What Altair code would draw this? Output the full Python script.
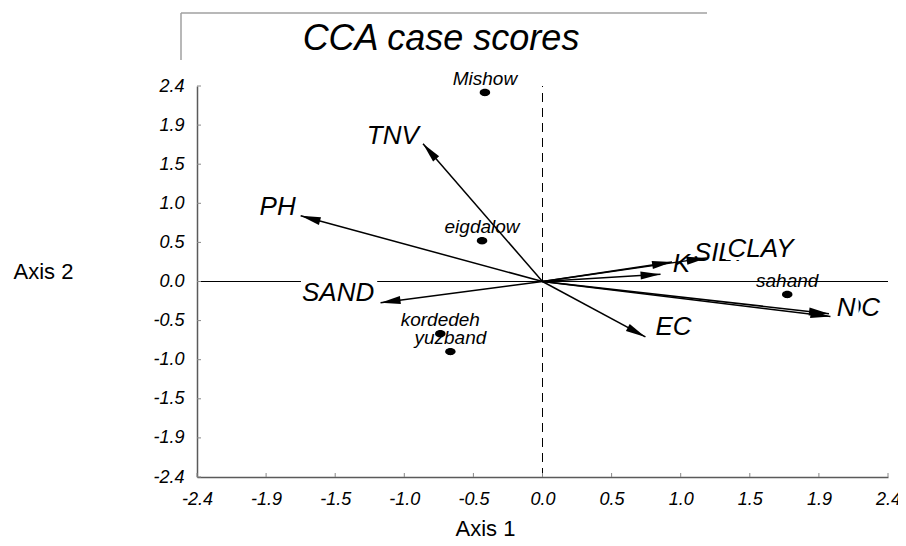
import math
import altair as alt
import pandas as pd

# ---- data ----
sites = ["Mishow", "eigdalow", "kordedeh", "yuzband", "sahand"]
site_x = [-0.40, -0.42, -0.71, -0.64, 1.70]
site_y = [2.32, 0.50, -0.64, -0.86, -0.16]

variables = ["TNV", "PH", "SAND", "EC", "K", "SILT", "CLAY", "OC", "N"]
var_x = [-0.83, -1.68, -1.125, 0.715, 0.90, 0.82, 1.14, 2.00, 1.99]
var_y = [1.69, 0.806, -0.26, -0.68, 0.24, 0.09, 0.29, -0.43, -0.395]
var_label_x = [-1.04, -1.84, -1.42, 0.91, 0.965, 1.235, 1.515, 2.21, 2.11]
var_label_y = [1.79, 0.91, -0.14, -0.56, 0.21, 0.35, 0.40, -0.33, -0.33]

tick_values = [-2.4, -1.92, -1.44, -0.96, -0.48, 0.0, 0.48, 0.96, 1.44, 1.92, 2.4]
tick_labels = ["-2.4", "-1.9", "-1.5", "-1.0", "-0.5", "0.0", "0.5", "1.0", "1.5", "1.9", "2.4"]

title_text = "CCA case scores"
x_title = "Axis 1"
y_title = "Axis 2"

# ---- layout ----
W, H = 691, 391
FONT = "Liberation Sans"
LABEL_FS = 26
kx, ky = W / 4.8, H / 4.8

# approximate Arial advance widths (em) for the label letters, to size white label boxes
CHAR_EM = {"T": .611, "N": .722, "V": .667, "P": .667, "H": .722, "S": .667, "A": .667,
           "D": .722, "E": .667, "C": .722, "K": .667, "I": .278, "L": .556, "Y": .667,
           "O": .778}

sites_df = pd.DataFrame({"name": sites, "x": site_x, "y": site_y})
arrows_df = pd.DataFrame({
    "name": variables, "x": var_x, "y": var_y,
    "x0": [0.0] * len(variables), "y0": [0.0] * len(variables),
    "lx": var_label_x, "ly": var_label_y,
})
arrows_df["angle"] = [
    math.degrees(math.atan2(-yy * ky, xx * kx)) % 360 for xx, yy in zip(var_x, var_y)
]
half_w = [sum(CHAR_EM.get(c, .667) for c in n) * LABEL_FS / 2 for n in variables]
arrows_df["bx1"] = [lx - (hw + 1) / kx for lx, hw in zip(var_label_x, half_w)]
arrows_df["bx2"] = [lx + (hw + 3) / kx for lx, hw in zip(var_label_x, half_w)]
arrows_df["by1"] = [ly + 14 / ky for ly in var_label_y]
arrows_df["by2"] = [ly - 11 / ky for ly in var_label_y]

ticks_df = pd.DataFrame({"v": tick_values})
zero_df = pd.DataFrame({"a": [-2.4], "b": [2.4], "z": [0.0]})

label_expr = "[" + ",".join("'%s'" % t for t in tick_labels) + "][round((datum.value + 2.4) / 0.48)]"

xscale = alt.Scale(domain=[-2.4, 2.4], nice=False, zero=False)
yscale = alt.Scale(domain=[-2.4, 2.4], nice=False, zero=False)

xaxis = alt.Axis(
    values=tick_values, labelExpr=label_expr, grid=False, ticks=False,
    domainColor="#5a5a5a", domainWidth=1.5, labelFont=FONT, labelFontSize=18,
    labelFontStyle="italic", labelColor="#000", labelPadding=13,
    title=x_title, titleFont=FONT, titleFontSize=22, titleFontWeight="normal",
    titleColor="#000", titleX=288, titleY=51, titleAlign="center",
    titleBaseline="middle", labelFlush=False, labelOverlap=False,
)
yaxis = alt.Axis(
    values=tick_values, labelExpr=label_expr, grid=False, ticks=False,
    domainColor="#5a5a5a", domainWidth=1.5, labelFont=FONT, labelFontSize=18,
    labelFontStyle="italic", labelColor="#000", labelPadding=13,
    title=y_title, titleFont=FONT, titleFontSize=22, titleFontWeight="normal",
    titleColor="#000", titleAngle=0, titleX=-184, titleY=185, titleAlign="left",
    titleBaseline="middle", labelFlush=False, labelOverlap=False,
)


def X(f):
    return alt.X(f, type="quantitative", scale=xscale, axis=xaxis)


def Y(f):
    return alt.Y(f, type="quantitative", scale=yscale, axis=yaxis)


dummy = alt.Data(values=[{}])

# zero reference lines
hline = alt.Chart(zero_df).mark_rule(color="#000", strokeWidth=1.2).encode(
    x=X("a"), x2="b", y=Y("z"))
vline = alt.Chart(zero_df).mark_rule(color="#000", strokeWidth=1, strokeDash=[9, 6]).encode(
    y=Y("a"), y2="b", x=X("z"))

# small inward ticks
yticks = alt.Chart(ticks_df).mark_rule(color="#888", strokeWidth=1).encode(
    y=Y("v"), x=alt.value(0), x2=alt.value(4))
xticks = alt.Chart(ticks_df).mark_rule(color="#888", strokeWidth=1).encode(
    x=X("v"), y=alt.value(H), y2=alt.value(H - 4))

# arrow labels, each on an opaque white box, drawn in order
label_layers = []
for v in variables:
    base = alt.Chart(arrows_df).transform_filter(alt.datum.name == v)
    box = base.mark_rect(color="#fff", opacity=1).encode(
        x=X("bx1"), x2="bx2", y=Y("by1"), y2="by2")
    txt = base.mark_text(
        font=FONT, fontSize=LABEL_FS, fontStyle="italic", color="#000",
        align="center", baseline="middle",
    ).encode(x=X("lx"), y=Y("ly"), text="name:N")
    label_layers += [box, txt]

# arrows
shafts = alt.Chart(arrows_df).mark_rule(color="#000", strokeWidth=1.5).encode(
    x=X("x0"), y=Y("y0"), x2="x", y2="y")
heads = alt.Chart(arrows_df).mark_point(
    shape="M0,0 L-2,-0.4 L-2,0.4 Z", filled=True, color="#000", opacity=1,
    size=400, strokeWidth=0,
).encode(x=X("x"), y=Y("y"), angle=alt.Angle("angle:Q", scale=None))

# case points
ellipse = "M-1,0 A1,0.7 0 1,1 1,0 A1,0.7 0 1,1 -1,0 Z"
points = alt.Chart(sites_df).mark_point(
    shape=ellipse, filled=True, color="#000", opacity=1, size=110, strokeWidth=0
).encode(x=X("x"), y=Y("y"))
point_labels = alt.Chart(sites_df).mark_text(
    font=FONT, fontSize=19, fontStyle="italic", color="#000", dy=-14,
    align="center", baseline="middle",
).encode(x=X("x"), y=Y("y"), text="name:N")

# title and its partial frame
frame_top = alt.Chart(dummy).mark_rule(color="#a0a0a0", strokeWidth=1.5).encode(
    x=alt.value(-16), x2=alt.value(510), y=alt.value(-73))
frame_left = alt.Chart(dummy).mark_rule(color="#a0a0a0", strokeWidth=1.5).encode(
    x=alt.value(-16), y=alt.value(-73), y2=alt.value(-26))
title = alt.Chart(dummy).mark_text(
    text=title_text, font=FONT, fontSize=36, fontStyle="italic", color="#000",
    align="center", baseline="alphabetic",
).encode(x=alt.value(244), y=alt.value(-36))

chart = alt.layer(
    hline, vline, yticks, xticks, *label_layers, shafts, heads, points, point_labels,
    frame_top, frame_left, title,
).properties(
    width=W, height=H,
    autosize=alt.AutoSizeParams(type="none"),
    padding={"left": 189, "top": 78, "right": 10, "bottom": 61},
    background="#ffffff",
).configure_view(stroke=None)

chart.save("out.html", embed_options={"renderer": "svg", "actions": False})
